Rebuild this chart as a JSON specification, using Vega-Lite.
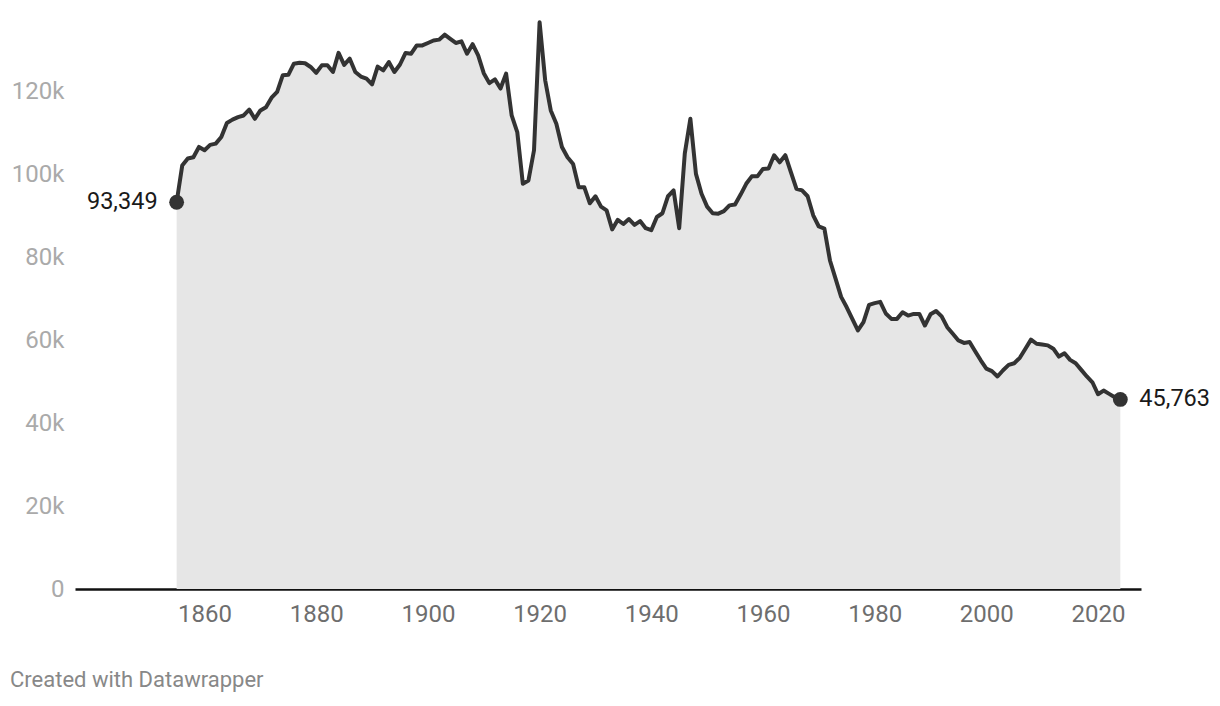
{
  "$schema": "https://vega.github.io/schema/vega-lite/v6.json",
  "width": 1066,
  "height": 568,
  "autosize": {"type": "none"},
  "padding": {"left": 75, "top": 21, "right": 79, "bottom": 117},
  "background": "#ffffff",
  "config": {
    "font": "Roboto",
    "view": {"stroke": null}
  },
  "title": {
    "text": "Created with Datawrapper",
    "orient": "bottom",
    "anchor": "start",
    "frame": "group",
    "dx": -65,
    "offset": 44,
    "fontSize": 22,
    "fontWeight": "normal",
    "color": "#888888",
    "font": "Roboto"
  },
  "data": {
    "values": [
      {"year": 1855, "value": 93349}, {"year": 1856, "value": 102200}, {"year": 1857, "value": 103900}, {"year": 1858, "value": 104200}, {"year": 1859, "value": 106700},
      {"year": 1860, "value": 105900}, {"year": 1861, "value": 107200}, {"year": 1862, "value": 107500}, {"year": 1863, "value": 109100}, {"year": 1864, "value": 112500},
      {"year": 1865, "value": 113300}, {"year": 1866, "value": 113900}, {"year": 1867, "value": 114300}, {"year": 1868, "value": 115700}, {"year": 1869, "value": 113500},
      {"year": 1870, "value": 115500}, {"year": 1871, "value": 116300}, {"year": 1872, "value": 118600}, {"year": 1873, "value": 120000}, {"year": 1874, "value": 124000},
      {"year": 1875, "value": 124100}, {"year": 1876, "value": 126800}, {"year": 1877, "value": 127000}, {"year": 1878, "value": 126900}, {"year": 1879, "value": 126000},
      {"year": 1880, "value": 124600}, {"year": 1881, "value": 126400}, {"year": 1882, "value": 126400}, {"year": 1883, "value": 124800}, {"year": 1884, "value": 129400},
      {"year": 1885, "value": 126500}, {"year": 1886, "value": 128000}, {"year": 1887, "value": 124800}, {"year": 1888, "value": 123700}, {"year": 1889, "value": 123200},
      {"year": 1890, "value": 121800}, {"year": 1891, "value": 126100}, {"year": 1892, "value": 125200}, {"year": 1893, "value": 127200}, {"year": 1894, "value": 124800},
      {"year": 1895, "value": 126600}, {"year": 1896, "value": 129400}, {"year": 1897, "value": 129200}, {"year": 1898, "value": 131200}, {"year": 1899, "value": 131200},
      {"year": 1900, "value": 131800}, {"year": 1901, "value": 132400}, {"year": 1902, "value": 132600}, {"year": 1903, "value": 133800}, {"year": 1904, "value": 132800},
      {"year": 1905, "value": 131800}, {"year": 1906, "value": 132200}, {"year": 1907, "value": 129200}, {"year": 1908, "value": 131500}, {"year": 1909, "value": 128800},
      {"year": 1910, "value": 124500}, {"year": 1911, "value": 122100}, {"year": 1912, "value": 123000}, {"year": 1913, "value": 120800}, {"year": 1914, "value": 124400},
      {"year": 1915, "value": 114300}, {"year": 1916, "value": 110300}, {"year": 1917, "value": 97800}, {"year": 1918, "value": 98600}, {"year": 1919, "value": 105900},
      {"year": 1920, "value": 136800}, {"year": 1921, "value": 122800}, {"year": 1922, "value": 115500}, {"year": 1923, "value": 112300}, {"year": 1924, "value": 106700},
      {"year": 1925, "value": 104200}, {"year": 1926, "value": 102600}, {"year": 1927, "value": 97000}, {"year": 1928, "value": 97000}, {"year": 1929, "value": 93100},
      {"year": 1930, "value": 94800}, {"year": 1931, "value": 92300}, {"year": 1932, "value": 91400}, {"year": 1933, "value": 86800}, {"year": 1934, "value": 89100},
      {"year": 1935, "value": 88100}, {"year": 1936, "value": 89300}, {"year": 1937, "value": 87900}, {"year": 1938, "value": 88800}, {"year": 1939, "value": 87100},
      {"year": 1940, "value": 86600}, {"year": 1941, "value": 89800}, {"year": 1942, "value": 90700}, {"year": 1943, "value": 94800}, {"year": 1944, "value": 96200},
      {"year": 1945, "value": 87100}, {"year": 1946, "value": 105100}, {"year": 1947, "value": 113500}, {"year": 1948, "value": 100200}, {"year": 1949, "value": 95400},
      {"year": 1950, "value": 92300}, {"year": 1951, "value": 90700}, {"year": 1952, "value": 90600}, {"year": 1953, "value": 91200}, {"year": 1954, "value": 92600},
      {"year": 1955, "value": 92800}, {"year": 1956, "value": 95200}, {"year": 1957, "value": 97800}, {"year": 1958, "value": 99600}, {"year": 1959, "value": 99600},
      {"year": 1960, "value": 101400}, {"year": 1961, "value": 101500}, {"year": 1962, "value": 104700}, {"year": 1963, "value": 103000}, {"year": 1964, "value": 104700},
      {"year": 1965, "value": 100600}, {"year": 1966, "value": 96600}, {"year": 1967, "value": 96200}, {"year": 1968, "value": 94800}, {"year": 1969, "value": 90200},
      {"year": 1970, "value": 87500}, {"year": 1971, "value": 87000}, {"year": 1972, "value": 79300}, {"year": 1973, "value": 74900}, {"year": 1974, "value": 70500},
      {"year": 1975, "value": 68000}, {"year": 1976, "value": 65200}, {"year": 1977, "value": 62400}, {"year": 1978, "value": 64400}, {"year": 1979, "value": 68600},
      {"year": 1980, "value": 69000}, {"year": 1981, "value": 69300}, {"year": 1982, "value": 66500}, {"year": 1983, "value": 65200}, {"year": 1984, "value": 65200},
      {"year": 1985, "value": 66800}, {"year": 1986, "value": 66000}, {"year": 1987, "value": 66400}, {"year": 1988, "value": 66400}, {"year": 1989, "value": 63600},
      {"year": 1990, "value": 66300}, {"year": 1991, "value": 67100}, {"year": 1992, "value": 65800}, {"year": 1993, "value": 63200}, {"year": 1994, "value": 61600},
      {"year": 1995, "value": 60000}, {"year": 1996, "value": 59400}, {"year": 1997, "value": 59600}, {"year": 1998, "value": 57400}, {"year": 1999, "value": 55200},
      {"year": 2000, "value": 53200}, {"year": 2001, "value": 52600}, {"year": 2002, "value": 51300}, {"year": 2003, "value": 52800}, {"year": 2004, "value": 54100},
      {"year": 2005, "value": 54500}, {"year": 2006, "value": 55800}, {"year": 2007, "value": 58000}, {"year": 2008, "value": 60200}, {"year": 2009, "value": 59200},
      {"year": 2010, "value": 59000}, {"year": 2011, "value": 58800}, {"year": 2012, "value": 58000}, {"year": 2013, "value": 56100}, {"year": 2014, "value": 56900},
      {"year": 2015, "value": 55300}, {"year": 2016, "value": 54500}, {"year": 2017, "value": 52900}, {"year": 2018, "value": 51300}, {"year": 2019, "value": 49900},
      {"year": 2020, "value": 47000}, {"year": 2021, "value": 47900}, {"year": 2022, "value": 47100}, {"year": 2023, "value": 46300}, {"year": 2024, "value": 45763}
    ]
  },
  "encoding": {
    "x": {
      "field": "year",
      "type": "quantitative",
      "scale": {"domain": [1836.8, 2027.7], "nice": false, "zero": false},
      "axis": {
        "title": null,
        "values": [1860, 1880, 1900, 1920, 1940, 1960, 1980, 2000, 2020],
        "format": "d",
        "grid": false,
        "ticks": false,
        "domain": true,
        "domainColor": "#111111",
        "domainWidth": 2.5,
        "labelColor": "#6e6e6e",
        "labelFontSize": 24,
        "labelFont": "Roboto",
        "labelPadding": 13
      }
    },
    "y": {
      "field": "value",
      "type": "quantitative",
      "scale": {"domain": [0, 137100], "nice": false},
      "axis": {
        "title": null,
        "values": [0, 20000, 40000, 60000, 80000, 100000, 120000],
        "labelExpr": "datum.value == 0 ? '0' : (datum.value / 1000) + 'k'",
        "grid": false,
        "ticks": false,
        "domain": false,
        "labelColor": "#aaaaaa",
        "labelFontSize": 24,
        "labelFont": "Roboto",
        "labelPadding": 11
      }
    }
  },
  "layer": [
    {"mark": {"type": "area", "color": "#e6e6e6", "opacity": 1}},
    {"mark": {"type": "line", "color": "#333333", "strokeWidth": 4, "strokeJoin": "round", "strokeCap": "round"}},
    {
      "transform": [{"filter": "datum.year == 1855 || datum.year == 2024"}],
      "mark": {"type": "point", "filled": true, "color": "#333333", "size": 220, "opacity": 1}
    },
    {
      "transform": [{"filter": "datum.year == 1855"}],
      "mark": {"type": "text", "align": "right", "baseline": "middle", "dx": -19, "fontSize": 23.5, "color": "#1a1a1a", "font": "Roboto"},
      "encoding": {"text": {"field": "value", "type": "quantitative", "format": ","}}
    },
    {
      "transform": [{"filter": "datum.year == 2024"}],
      "mark": {"type": "text", "align": "left", "baseline": "middle", "dx": 19, "fontSize": 23.5, "color": "#1a1a1a", "font": "Roboto"},
      "encoding": {"text": {"field": "value", "type": "quantitative", "format": ","}}
    }
  ]
}
